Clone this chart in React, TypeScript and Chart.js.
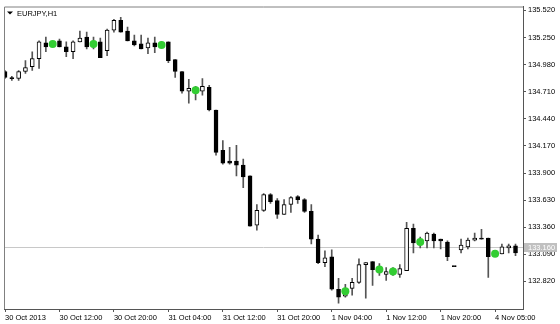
import React, { useEffect, useRef } from 'react';
import { Chart, registerables } from 'chart.js';

Chart.register(...registerables);

// ---- categories (hourly bars, H1) ----
const daySegments: [string, number, number][] = [
  ['30 Oct', 4, 23],
  ['31 Oct', 0, 23],
  ['1 Nov', 0, 22],
  ['4 Nov', 0, 8],
];
const barTimes: string[] = [];
daySegments.forEach(([d, h0, h1]) => {
  for (let h = h0; h <= h1; h++) barTimes.push(`${d} ${String(h).padStart(2, '0')}:00`);
});

// ---- x-axis tick labels ----
const xTickIndex = [0, 8, 16, 24, 32, 40, 48, 56, 64, 72];
const xTickLabels = [
  '30 Oct 2013', '30 Oct 12:00', '30 Oct 20:00', '31 Oct 04:00', '31 Oct 12:00',
  '31 Oct 20:00', '1 Nov 04:00', '1 Nov 12:00', '1 Nov 20:00', '4 Nov 05:00',
];

// ---- y-axis tick values ----
const yTicks = [132.82, 133.09, 133.36, 133.63, 133.9, 134.17, 134.44, 134.71, 134.98, 135.25, 135.52];

// ---- OHLC ----
const opens = [
  134.911, 134.845, 134.842, 134.911, 134.960, 135.039, 135.196, 135.176, 135.216, 135.157,
  135.108, 135.206, 135.255, 135.157, 135.206, 135.118, 135.324, 135.422, 135.314, 135.216,
  135.186, 135.147, 135.196, 135.167, 135.206, 135.029, 134.911, 134.715, 134.735, 134.715,
  134.754, 134.528, 134.126, 134.018, 134.018, 133.979, 133.871, 133.380, 133.527, 133.684,
  133.625, 133.488, 133.586, 133.665, 133.635, 133.517, 133.242, 133.007, 133.066, 132.742,
  132.673, 132.751, 132.810, 132.987, 133.017, 132.948, 132.889, 132.908, 132.889, 132.928,
  133.350, 133.203, 133.223, 133.291, 133.242, 133.213, 132.967, 133.134, 133.164, 133.232,
  133.252, 133.252, 133.105, 133.095, 133.154, 133.174,
];
const highs = [
  134.921, 134.862, 134.921, 135.019, 135.108, 135.216, 135.255, 135.206, 135.235, 135.206,
  135.216, 135.314, 135.304, 135.255, 135.245, 135.334, 135.432, 135.451, 135.353, 135.275,
  135.275, 135.245, 135.255, 135.206, 135.206, 135.029, 134.911, 134.833, 134.764, 134.842,
  134.774, 134.528, 134.224, 134.155, 134.175, 134.038, 133.871, 133.586, 133.694, 133.694,
  133.645, 133.635, 133.665, 133.674, 133.645, 133.586, 133.282, 133.124, 133.134, 132.850,
  132.791, 132.850, 133.046, 133.007, 133.017, 132.997, 132.958, 132.958, 132.987, 133.409,
  133.390, 133.262, 133.311, 133.301, 133.242, 133.223, 132.967, 133.242, 133.252, 133.301,
  133.340, 133.252, 133.124, 133.193, 133.193, 133.193,
];
const lows = [
  134.842, 134.822, 134.822, 134.892, 134.921, 134.941, 135.108, 135.167, 135.157, 135.059,
  135.039, 135.206, 135.137, 135.137, 135.049, 135.068, 135.304, 135.304, 135.216, 135.167,
  135.137, 135.088, 135.098, 135.157, 135.000, 134.852, 134.695, 134.597, 134.627, 134.676,
  134.519, 134.077, 133.988, 133.988, 133.871, 133.753, 133.370, 133.331, 133.517, 133.596,
  133.448, 133.488, 133.507, 133.596, 133.507, 133.193, 132.997, 132.967, 132.732, 132.604,
  132.663, 132.682, 132.800, 132.653, 132.781, 132.879, 132.830, 132.879, 132.859, 132.928,
  133.105, 133.154, 133.154, 133.154, 133.144, 133.026, 132.967, 133.105, 133.144, 133.223,
  133.242, 132.859, 133.066, 133.095, 133.105, 133.076,
];
const closes = [
  134.852, 134.840, 134.911, 134.951, 135.039, 135.206, 135.157, 135.196, 135.157, 135.108,
  135.206, 135.245, 135.157, 135.186, 135.049, 135.324, 135.422, 135.304, 135.216, 135.176,
  135.137, 135.196, 135.157, 135.196, 135.019, 134.911, 134.715, 134.744, 134.725, 134.764,
  134.528, 134.106, 133.998, 133.998, 133.979, 133.861, 133.370, 133.527, 133.684, 133.615,
  133.488, 133.586, 133.655, 133.635, 133.517, 133.242, 133.007, 133.056, 132.742, 132.663,
  132.712, 132.810, 132.987, 133.007, 132.938, 132.918, 132.918, 132.928, 132.948, 133.350,
  133.203, 133.223, 133.301, 133.223, 133.223, 133.066, 132.967, 133.183, 133.232, 133.252,
  133.242, 133.066, 133.085, 133.164, 133.174, 133.105,
];

// ---- signal dots ----
const signalIndex = [7, 13, 23, 28, 50, 55, 57, 61, 72];
const signalPrice = [135.186, 135.186, 135.176, 134.725, 132.722, 132.938, 132.918, 133.213, 133.095];

// ---- current price line ----
const currentPrice = 133.16;
const symbolTitle = 'EURJPY,H1';

const FONT = { family: 'Liberation Sans, Arial, sans-serif', size: 7.5 };

export default function App() {
  const ref = useRef<HTMLCanvasElement>(null);

  useEffect(() => {
    if (!ref.current) return;
    const bodies = opens.map((o, i) => ({ x: i, y: [Math.min(o, closes[i]), Math.max(o, closes[i])] }));
    const wicks = highs.map((h, i) => ({ x: i, y: [lows[i], h] }));
    const bodyColors = opens.map((o, i) => (closes[i] > o ? '#ffffff' : '#000000'));
    const dots = signalIndex.map((idx, k) => ({ x: idx, y: signalPrice[k] }));

    const decor = {
      id: 'mtDecor',
      beforeDatasetsDraw(chart: any) {
        const { ctx, chartArea, scales } = chart;
        const y = Math.round(scales.y.getPixelForValue(currentPrice)) + 0.5;
        ctx.save();
        ctx.strokeStyle = '#c8c8c8';
        ctx.lineWidth = 1;
        ctx.beginPath();
        ctx.moveTo(chartArea.left, y);
        ctx.lineTo(chartArea.right, y);
        ctx.stroke();
        ctx.restore();
      },
      afterDraw(chart: any) {
        const { ctx, chartArea, scales } = chart;
        ctx.save();
        // frame top & left
        ctx.strokeStyle = '#808080';
        ctx.lineWidth = 1;
        ctx.beginPath();
        ctx.moveTo(chartArea.left + 0.5, chartArea.bottom);
        ctx.lineTo(chartArea.left + 0.5, chartArea.top + 0.5);
        ctx.lineTo(chartArea.right, chartArea.top + 0.5);
        ctx.stroke();
        // title
        ctx.fillStyle = '#000';
        ctx.beginPath();
        ctx.moveTo(chartArea.left + 3, chartArea.top + 5);
        ctx.lineTo(chartArea.left + 9, chartArea.top + 5);
        ctx.lineTo(chartArea.left + 6, chartArea.top + 8);
        ctx.closePath();
        ctx.fill();
        ctx.font = `${FONT.size}px ${FONT.family}`;
        ctx.textBaseline = 'middle';
        ctx.textAlign = 'left';
        ctx.fillText(symbolTitle, chartArea.left + 13, chartArea.top + 7);
        // price tag
        const y = scales.y.getPixelForValue(currentPrice);
        ctx.fillStyle = '#c0c0c0';
        ctx.fillRect(chartArea.right + 1, Math.round(y) - 4, 33, 9);
        ctx.fillStyle = '#ffffff';
        ctx.fillText(currentPrice.toFixed(3), chartArea.right + 5, Math.round(y) + 0.5);
        ctx.restore();
      },
    };

    const chart = new Chart(ref.current, {
      type: 'bar',
      data: {
        datasets: [
          {
            type: 'scatter',
            data: dots,
            backgroundColor: '#32cd32',
            borderWidth: 0,
            pointRadius: 4,
            order: 0,
          } as any,
          {
            data: bodies,
            backgroundColor: bodyColors,
            borderColor: '#000',
            borderWidth: 1,
            borderSkipped: false,
            barThickness: 4,
            minBarLength: 1,
            grouped: false,
            order: 1,
          } as any,
          {
            data: wicks,
            backgroundColor: '#555',
            borderWidth: 0,
            barThickness: 1,
            grouped: false,
            order: 2,
          } as any,
        ],
      },
      options: {
        animation: false,
        responsive: false,
        devicePixelRatio: 1,
        layout: { padding: { left: 2, top: 2, right: 0, bottom: 0 } },
        plugins: { legend: { display: false }, tooltip: { enabled: false } },
        scales: {
          x: {
            type: 'linear',
            position: 'bottom',
            min: -0.15,
            max: 76.1,
            offset: false,
            afterBuildTicks: (s: any) => {
              s.ticks = xTickIndex.map((v) => ({ value: v }));
            },
            afterFit: (s: any) => {
              s.height = 15;
            },
            ticks: {
              autoSkip: false,
              maxRotation: 0,
              align: 'start',
              padding: 1,
              color: '#000',
              font: FONT,
              callback: (v: any) => {
                const k = xTickIndex.indexOf(Number(v));
                return k >= 0 ? xTickLabels[k] : '';
              },
            },
            grid: { drawOnChartArea: false, offset: false, tickLength: 3, color: '#555' },
            border: { display: true, color: '#555' },
          },
          y: {
            type: 'linear',
            position: 'right',
            min: 132.545,
            max: 135.559,
            beginAtZero: false,
            afterBuildTicks: (s: any) => {
              s.ticks = yTicks.map((v) => ({ value: v }));
            },
            afterFit: (s: any) => {
              s.width = 37;
            },
            ticks: {
              padding: 2,
              color: '#000',
              font: FONT,
              callback: (v: any) => Number(v).toFixed(3),
            },
            grid: { drawOnChartArea: false, tickLength: 3, color: '#555' },
            border: { display: true, color: '#555' },
          },
        },
      } as any,
      plugins: [decor],
    });
    return () => chart.destroy();
  }, []);

  return (
    <div style={{ position: 'fixed', left: 0, top: 0, width: 560, height: 324, background: '#fff' }}>
      <canvas ref={ref} width={560} height={324} />
    </div>
  );
}
